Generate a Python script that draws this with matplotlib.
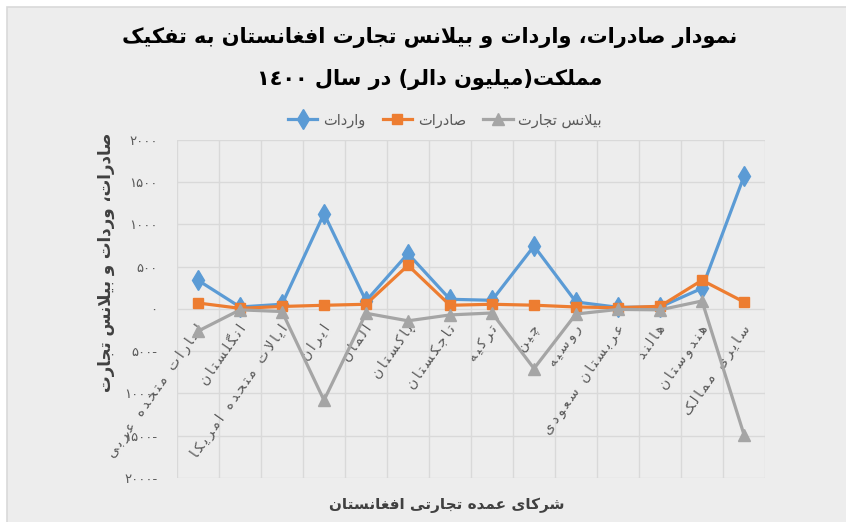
import re
import matplotlib
matplotlib.use("Agg")
import matplotlib.pyplot as plt
import matplotlib.transforms as mtransforms
from matplotlib.patches import Rectangle

# data (million dollars, year 1400)
countries = ["امارات متحده عربی", "انگلستان", "ایالات متحده امریکا", "ایران", "آلمان",
             "پاکستان", "تاجکستان", "ترکیه", "چین", "روسیه", "عربستان سعودی",
             "هالند", "هندوستان", "سایری ممالک"]
imports = [340, 24, 56, 1128, 95, 655, 115, 103, 745, 83, 20, 24, 245, 1570]
exports = [71, 8, 30, 44, 56, 517, 44, 56, 45, 24, 15, 32, 340, 83]
balance = [-262, -10, -30, -1080, -50, -140, -70, -47, -705, -59, -5, -10, 95, -1487]

title_1 = "نمودار صادرات، واردات و بیلانس تجارت افغانستان به تفکیک"
title_2 = "مملکت(میلیون دالر) در سال ١٤٠٠"
ylabel = "صادرات، وردات و بیلانس تجارت"
xlabel = "شرکای عمده تجارتی افغانستان"
series_names = ["واردات", "صادرات", "بیلانس تجارت"]

# --- minimal Arabic/Persian shaping (matplotlib has no complex text layout) ---
# forms: isolated, final, initial, medial
FORMS = {
    "ا": ("\uFE8D", "\uFE8E"), "آ": ("\uFE81", "\uFE82"),
    "د": ("\uFEA9", "\uFEAA"), "ذ": ("\uFEAB", "\uFEAC"),
    "ر": ("\uFEAD", "\uFEAE"), "ز": ("\uFEAF", "\uFEB0"),
    "ژ": ("\uFB8A", "\uFB8B"), "و": ("\uFEED", "\uFEEE"),
    "ب": ("\uFE8F", "\uFE90", "\uFE91", "\uFE92"),
    "پ": ("\uFB56", "\uFB57", "\uFB58", "\uFB59"),
    "ت": ("\uFE95", "\uFE96", "\uFE97", "\uFE98"),
    "ث": ("\uFE99", "\uFE9A", "\uFE9B", "\uFE9C"),
    "ج": ("\uFE9D", "\uFE9E", "\uFE9F", "\uFEA0"),
    "چ": ("\uFB7A", "\uFB7B", "\uFB7C", "\uFB7D"),
    "ح": ("\uFEA1", "\uFEA2", "\uFEA3", "\uFEA4"),
    "خ": ("\uFEA5", "\uFEA6", "\uFEA7", "\uFEA8"),
    "س": ("\uFEB1", "\uFEB2", "\uFEB3", "\uFEB4"),
    "ش": ("\uFEB5", "\uFEB6", "\uFEB7", "\uFEB8"),
    "ص": ("\uFEB9", "\uFEBA", "\uFEBB", "\uFEBC"),
    "ض": ("\uFEBD", "\uFEBE", "\uFEBF", "\uFEC0"),
    "ط": ("\uFEC1", "\uFEC2", "\uFEC3", "\uFEC4"),
    "ظ": ("\uFEC5", "\uFEC6", "\uFEC7", "\uFEC8"),
    "ع": ("\uFEC9", "\uFECA", "\uFECB", "\uFECC"),
    "غ": ("\uFECD", "\uFECE", "\uFECF", "\uFED0"),
    "ف": ("\uFED1", "\uFED2", "\uFED3", "\uFED4"),
    "ق": ("\uFED5", "\uFED6", "\uFED7", "\uFED8"),
    "ک": ("\uFB8E", "\uFB8F", "\uFB90", "\uFB91"),
    "گ": ("\uFB92", "\uFB93", "\uFB94", "\uFB95"),
    "ل": ("\uFEDD", "\uFEDE", "\uFEDF", "\uFEE0"),
    "م": ("\uFEE1", "\uFEE2", "\uFEE3", "\uFEE4"),
    "ن": ("\uFEE5", "\uFEE6", "\uFEE7", "\uFEE8"),
    "ه": ("\uFEE9", "\uFEEA", "\uFEEB", "\uFEEC"),
    "ی": ("\uFBFC", "\uFBFD", "\uFBFE", "\uFBFF"),
}
LAM_ALEF = {"ا": ("\uFEFB", "\uFEFC"), "آ": ("\uFEF5", "\uFEF6")}
DIGITS = "0-9\u0660-\u0669\u06F0-\u06F9"


def dual(c):
    return c in FORMS and len(FORMS[c]) == 4


def shape(text):
    out = []
    i = 0
    n = len(text)
    while i < n:
        c = text[i]
        prev = text[i - 1] if i > 0 else ""
        nxt = text[i + 1] if i < n - 1 else ""
        if c not in FORMS:
            out.append(c)
            i += 1
            continue
        jp = dual(prev)
        if c == "ل" and nxt in LAM_ALEF:
            out.append(LAM_ALEF[nxt][1 if jp else 0])
            i += 2
            continue
        jn = dual(c) and nxt in FORMS
        f = FORMS[c]
        if jp and jn:
            out.append(f[3])
        elif jp:
            out.append(f[1])
        elif jn:
            out.append(f[2])
        else:
            out.append(f[0])
        i += 1
    return "".join(out)


def fa(text, gap=""):
    shaped = shape(text)
    runs = re.findall("[%s]+|[^%s]+" % (DIGITS, DIGITS), shaped)
    mirror = str.maketrans("()", ")(")
    vis = []
    for r in reversed(runs):
        if re.match("[%s]" % DIGITS, r):
            vis.append(r)
        else:
            vis.append(r[::-1].translate(mirror))
    s = "".join(vis)
    if gap:
        s = gap.join(s)
    return s


def fa_num(v):
    d = str(abs(int(v))).translate(str.maketrans("0123456789", "۰۱۲۳۴۵۶۷۸۹"))
    return d + "-" if v < 0 else d


plt.rcParams["font.family"] = ["DejaVu Sans"]

BG = "#EDEDED"
TXT = "#595959"
GRID = "#D9D9D9"

fig = plt.figure(figsize=(8.46, 5.22), dpi=100)
fig.patch.set_facecolor("white")
fig.patches.append(Rectangle((7 / 846, -0.1), 1.2, 1.1 - 7 / 522, transform=fig.transFigure,
                             facecolor=BG, edgecolor=GRID, linewidth=1.2, zorder=-10))

ax = fig.add_axes([177 / 846, 1 - 478 / 522, (765 - 177) / 846, (478 - 140) / 522])
ax.patch.set_alpha(0)

x = list(range(len(countries)))
ax.plot(x, imports, color="#5B9BD5", lw=2.3, marker="d", ms=10, label=fa(series_names[0]), zorder=3)
ax.plot(x, exports, color="#ED7D31", lw=2.3, marker="s", ms=7.5, label=fa(series_names[1]), zorder=4)
ax.plot(x, balance, color="#A5A5A5", lw=2.3, marker="^", ms=9, label=fa(series_names[2]), zorder=5)

ax.set_xlim(-0.5, len(countries) - 0.5)
ax.set_ylim(-2000, 2000)
ax.set_yticks(range(-2000, 2001, 500))
ax.set_yticklabels([fa_num(v) for v in range(-2000, 2001, 500)], color=TXT, fontsize=9.5)
ax.set_xticks([i - 0.5 for i in range(len(countries) + 1)])
ax.set_xticklabels([])
ax.tick_params(length=0, pad=14)
ax.grid(True, color=GRID, lw=1)
for s in ax.spines.values():
    s.set_visible(False)

# category labels sit just under the zero line, like Excel
off = mtransforms.offset_copy(ax.transData, fig=fig, x=3, y=-17, units="dots")
for i, name in enumerate(countries):
    ax.text(i, 0, fa(name, "\u2009"), transform=off, rotation=55, rotation_mode="anchor",
            ha="right", va="center", fontsize=10, color=TXT, clip_on=False)

fig.text(430 / 846, 1 - 38 / 522, fa(title_1), ha="center", va="center",
         fontsize=15, fontweight="bold", color="black")
fig.text(430 / 846, 1 - 80 / 522, fa(title_2), ha="center", va="center",
         fontsize=15, fontweight="bold", color="black")
fig.text(106 / 846, 1 - 262 / 522, fa(ylabel), rotation=90, ha="center", va="center",
         fontsize=12, fontweight="bold", color="#404040")
fig.text(447 / 846, 1 - 505 / 522, fa(xlabel), ha="center", va="center",
         fontsize=11, fontweight="bold", color="#404040")

leg = fig.legend(loc="center", bbox_to_anchor=(445 / 846, 1 - 120 / 522), ncol=3,
                 frameon=False, fontsize=10.5, handlelength=2.0, columnspacing=1.2,
                 handletextpad=0.4, labelcolor=TXT)

fig.savefig("out.png", dpi=100, facecolor=fig.get_facecolor())
